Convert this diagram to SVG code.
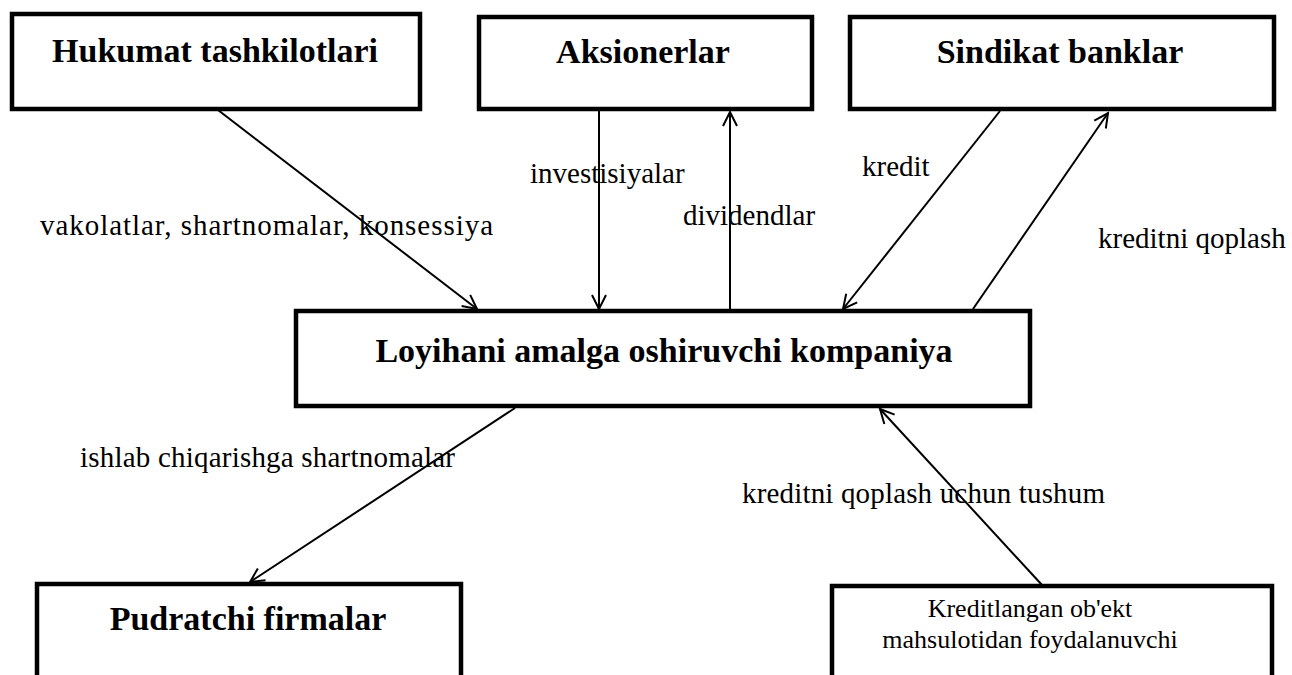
<svg xmlns="http://www.w3.org/2000/svg" width="1292" height="675" viewBox="0 0 1292 675">
  <style>
    .box { fill: #ffffff; stroke: #000000; stroke-width: 4.5; }
    .title { font-family: "Liberation Serif", "Times New Roman", serif; font-weight: bold; font-size: 34px; fill: #000000; text-anchor: middle; }
    .body { font-family: "Liberation Serif", "Times New Roman", serif; font-size: 26px; fill: #000000; text-anchor: middle; }
    .label { font-family: "Liberation Serif", "Times New Roman", serif; font-size: 29px; fill: #000000; }
    .conn { stroke: #000000; stroke-width: 2; fill: none; marker-end: url(#arrow); }
  </style>
  <defs>
    <marker id="arrow" viewBox="-16 -9 18 18" refX="0" refY="0" markerWidth="18" markerHeight="18" markerUnits="userSpaceOnUse" orient="auto">
      <path d="M -14 -7 L 0 0 L -14 7" fill="none" stroke="#000000" stroke-width="2"/>
    </marker>
  </defs>
  <rect width="1292" height="675" fill="#ffffff"/>

  <!-- connectors -->
  <g id="connectors">
    <line class="conn" x1="218" y1="110" x2="477" y2="309"/>
    <line class="conn" x1="599" y1="110" x2="599" y2="309"/>
    <line class="conn" x1="730" y1="309" x2="730" y2="112"/>
    <line class="conn" x1="1000" y1="111" x2="843" y2="309"/>
    <line class="conn" x1="973" y1="309" x2="1108" y2="113"/>
    <line class="conn" x1="515" y1="408" x2="250" y2="582"/>
    <line class="conn" x1="1042" y1="585" x2="880" y2="409"/>
  </g>

  <!-- connector labels -->
  <g id="labels">
    <text class="label" x="40" y="235" textLength="453" lengthAdjust="spacing">vakolatlar, shartnomalar, konsessiya</text>
    <text class="label" x="530" y="183">investisiyalar</text>
    <text class="label" x="683" y="225">dividendlar</text>
    <text class="label" x="862" y="176">kredit</text>
    <text class="label" x="1098" y="248">kreditni qoplash</text>
    <text class="label" x="80" y="467" textLength="375" lengthAdjust="spacing">ishlab chiqarishga shartnomalar</text>
    <text class="label" x="742" y="503" textLength="363" lengthAdjust="spacing">kreditni qoplash uchun tushum</text>
  </g>

  <!-- nodes -->
  <g id="hukumat">
    <rect class="box" x="12" y="14" width="408" height="95"/>
    <text class="title" x="215" y="62">Hukumat tashkilotlari</text>
  </g>
  <g id="aksionerlar">
    <rect class="box" x="479" y="17" width="333" height="92"/>
    <text class="title" x="643" y="63">Aksionerlar</text>
  </g>
  <g id="sindikat">
    <rect class="box" x="850" y="17" width="424" height="92"/>
    <text class="title" x="1060" y="63">Sindikat banklar</text>
  </g>
  <g id="kompaniya">
    <rect class="box" x="296" y="311" width="734" height="95"/>
    <text class="title" x="664" y="362">Loyihani amalga oshiruvchi kompaniya</text>
  </g>
  <g id="pudratchi">
    <rect class="box" x="37" y="584" width="424" height="120"/>
    <text class="title" x="248" y="630">Pudratchi firmalar</text>
  </g>
  <g id="iste-molchi">
    <rect class="box" x="832" y="586" width="440" height="120"/>
    <text class="body" x="1030" y="617">Kreditlangan ob'ekt</text>
    <text class="body" x="1030" y="648">mahsulotidan foydalanuvchi</text>
  </g>
</svg>
